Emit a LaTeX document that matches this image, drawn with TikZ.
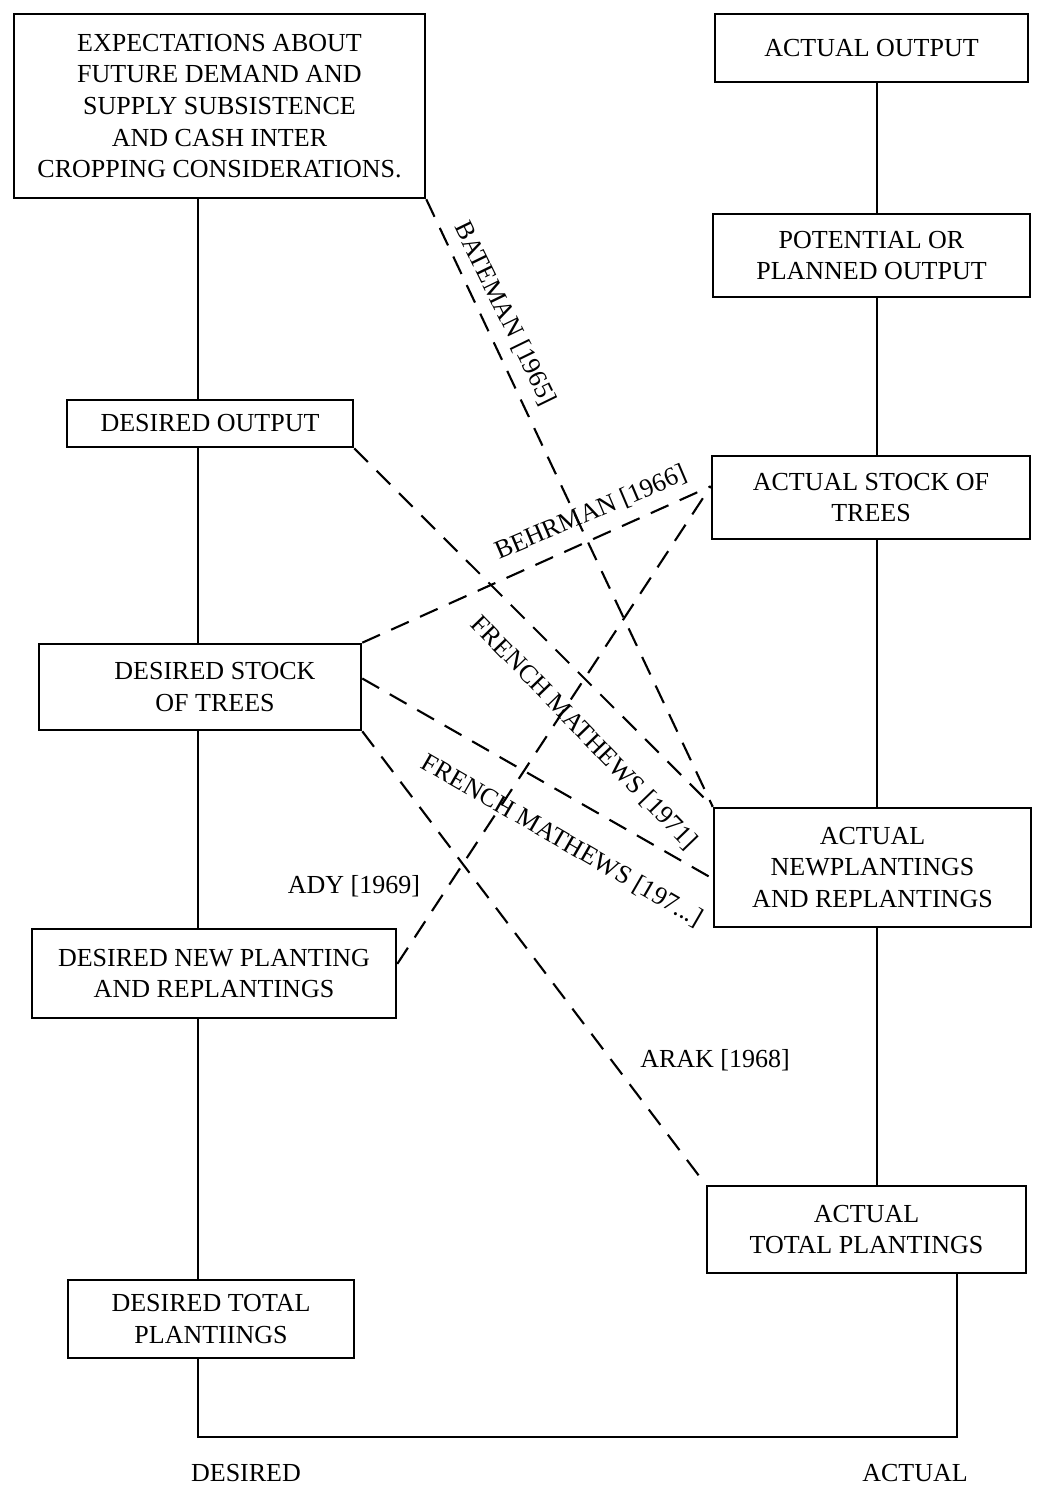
\documentclass[tikz,border=0pt]{standalone}
\usepackage{fontspec}
\setmainfont{Liberation Serif}
\usetikzlibrary{calc}
\begin{document}
\begin{tikzpicture}[x=0.02cm,y=-0.02cm,
  bx/.style={draw, line width=1.5pt, inner sep=0pt, align=center,
    font=\fontsize{14.8pt}{18pt}\selectfont},
  lbl/.style={inner sep=0pt, font=\fontsize{14.8pt}{18pt}\selectfont},
  spine/.style={line width=1.3pt},
  dline/.style={line width=1.2pt, dash pattern=on 11pt off 7pt}]
\useasboundingbox (0,0) rectangle (1038,1487);
% left column (desired)
\node[bx, minimum width=8.22cm, minimum height=3.68cm] (exp) at (219.5,106)
  {EXPECTATIONS ABOUT\\FUTURE DEMAND AND\\SUPPLY SUBSISTENCE\\AND CASH INTER\\CROPPING CONSIDERATIONS.};
\node[bx, minimum width=5.72cm, minimum height=0.94cm] (dout) at (210,423.5) {DESIRED OUTPUT};
\node[bx, minimum width=6.44cm, minimum height=1.72cm] (dstock) at (200,687) {\hspace{0.6cm}DESIRED STOCK\\\hspace{0.6cm}OF TREES};
\node[bx, minimum width=7.28cm, minimum height=1.78cm] (dnew) at (214,973.5) {DESIRED NEW PLANTING\\AND REPLANTINGS};
\node[bx, minimum width=5.72cm, minimum height=1.56cm] (dtot) at (211,1319) {DESIRED TOTAL\\PLANTIINGS};
% right column (actual)
\node[bx, minimum width=6.26cm, minimum height=1.36cm] (aout) at (871.5,48) {ACTUAL OUTPUT};
\node[bx, minimum width=6.34cm, minimum height=1.66cm] (pot) at (871.5,255.5) {POTENTIAL OR\\PLANNED OUTPUT};
\node[bx, minimum width=6.36cm, minimum height=1.66cm] (astock) at (871,497.5) {ACTUAL STOCK OF\\TREES};
\node[bx, minimum width=6.34cm, minimum height=2.38cm] (anew) at (872.5,867.5) {ACTUAL\\NEWPLANTINGS\\AND REPLANTINGS};
\node[bx, minimum width=6.38cm, minimum height=1.74cm] (atot) at (866.5,1229.5) {ACTUAL\\TOTAL PLANTINGS};
% spine coordinates
\coordinate (L) at (198,0);
\coordinate (R) at (877,0);
\coordinate (BL) at (198,1437);
\coordinate (BR) at (957,1437);
% solid spines
\draw[spine] (exp.south -| L) -- (dout.north -| L);
\draw[spine] (dout.south -| L) -- (dstock.north -| L);
\draw[spine] (dstock.south -| L) -- (dnew.north -| L);
\draw[spine] (dnew.south -| L) -- (dtot.north -| L);
\draw[spine] (dtot.south -| L) -- (BL) -- (BR) -- (atot.south -| BR);
\draw[spine] (aout.south -| R) -- (pot.north -| R);
\draw[spine] (pot.south -| R) -- (astock.north -| R);
\draw[spine] (astock.south -| R) -- (anew.north -| R);
\draw[spine] (anew.south -| R) -- (atot.north -| R);
% dashed connectors
\draw[dline] (exp.south east) -- (anew.north west);
\draw[dline] (dout.south east) -- (anew.north west);
\draw[dline] (dstock.north east) -- (astock.176);
\draw[dline] (dnew.3) -- (astock.176);
\draw[dline] (dstock.3) -- (anew.184);
\draw[dline] (dstock.south east) -- (atot.north west);
% labels
\node[lbl, rotate=-64] (lBat) at (505,314) {BATEMAN [1965]};
\node[lbl, rotate=23] (lBeh) at (591,513) {BEHRMAN [1966]};
\node[lbl, rotate=-46] (lFM1) at (584,733) {FRENCH MATHEWS [1971]};
\node[lbl, rotate=-30] (lFM2) at (562,841) {FRENCH MATHEWS [197...]};
\node[lbl] (lAdy) at (354,886) {ADY [1969]};
\node[lbl] (lArak) at (715,1060) {ARAK [1968]};
\node[lbl] (lDes) at (246,1473) {DESIRED};
\node[lbl] (lAct) at (915,1473) {ACTUAL};
\end{tikzpicture}
\end{document}
